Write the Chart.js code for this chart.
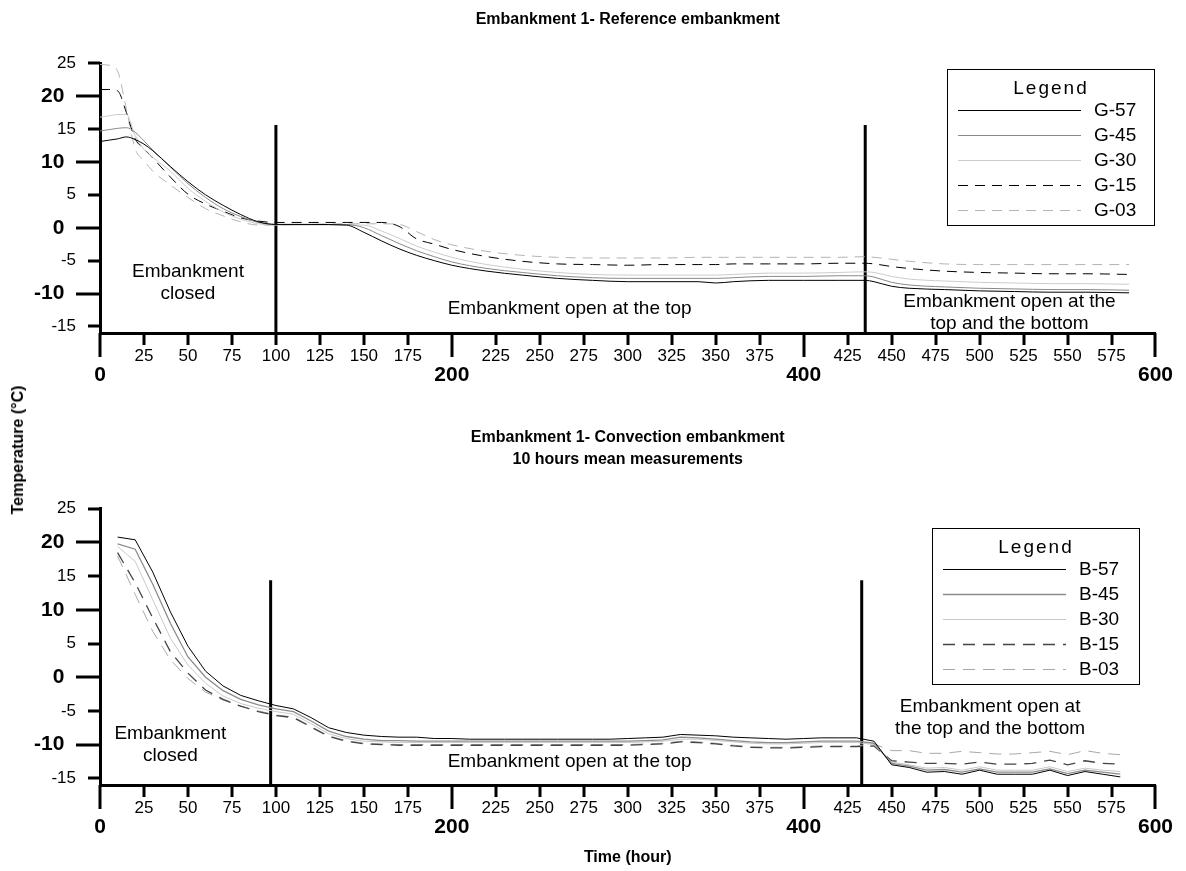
<!DOCTYPE html>
<html>
<head>
<meta charset="utf-8">
<title>Embankment 1 temperatures</title>
<script src="https://cdn.jsdelivr.net/npm/chart.js@4.4.1/dist/chart.umd.min.js"></script>
<style>
  html, body { margin: 0; padding: 0; background: #fff; }
  #wrap { position: relative; width: 1186px; height: 871px; font-family: "Liberation Sans", Arial, sans-serif; }
  #topChart { position: absolute; left: 0; top: 0; }
  #bottomChart { position: absolute; left: 0; top: 400px; }
  #ytitle { position: absolute; left: 18px; top: 450px; transform: translate(-50%, -50%) rotate(-90deg);
            font-weight: bold; font-size: 16px; white-space: nowrap; }
</style>
</head>
<body>
<div id="wrap">
  <canvas id="topChart" width="1186" height="400"></canvas>
  <canvas id="bottomChart" width="1186" height="471"></canvas>
  <div id="ytitle">Temperature (°C)</div>
</div>
<script>
'use strict'

// axis ticks
const xTicks = [0, 25, 50, 75, 100, 125, 150, 175, 200, 225, 250, 275, 300, 325, 350, 375, 400, 425, 450, 475, 500, 525, 550, 575, 600];
const xMajor = [0, 200, 400, 600];
const yTicks = [-15, -10, -5, 0, 5, 10, 15, 20, 25];
const yMajor = [-10, 0, 10, 20];

// reference embankment (G sensors)
const topHours = [0, 5, 10, 15, 20, 25, 30, 40, 50, 60, 70, 80, 90, 100, 120, 140, 150, 160, 170, 180,
  190, 200, 220, 240, 260, 280, 300, 320, 340, 350, 360, 380, 400, 420, 435, 440, 450, 460, 480, 500,
  520, 540, 560, 585];
const g57 = [13.1, 13.3, 13.5, 13.8, 13.4, 12.7, 11.7, 9.3, 7.0, 5.0, 3.4, 2.0, 0.9, 0.5, 0.5, 0.4, -0.7, -2.0, -3.2, -4.2,
  -5.0, -5.7, -6.6, -7.2, -7.7, -8.0, -8.2, -8.2, -8.2, -8.4, -8.2, -8.0, -8.0, -8.0, -8.0, -8.2, -8.9, -9.2, -9.4, -9.6,
  -9.7, -9.8, -9.8, -9.9];
const g45 = [14.7, 14.9, 15.1, 15.2, 14.5, 13.2, 11.8, 9.2, 6.7, 4.6, 2.9, 1.7, 0.8, 0.5, 0.5, 0.5, 0.0, -1.2, -2.4, -3.5,
  -4.4, -5.2, -6.2, -6.8, -7.3, -7.6, -7.7, -7.7, -7.7, -7.7, -7.6, -7.4, -7.4, -7.3, -7.3, -7.5, -8.3, -8.7, -9.0, -9.2,
  -9.3, -9.4, -9.4, -9.5];
const g30 = [16.8, 17.0, 17.2, 17.2, 14.0, 11.9, 10.7, 8.6, 6.0, 4.0, 2.4, 1.3, 0.6, 0.4, 0.4, 0.4, 0.4, -0.5, -1.6, -2.8,
  -3.7, -4.5, -5.6, -6.3, -6.8, -7.1, -7.2, -7.2, -7.2, -7.2, -7.1, -6.9, -6.9, -6.8, -6.7, -6.8, -7.4, -7.8, -8.1, -8.3,
  -8.4, -8.5, -8.5, -8.6];
const g15 = [21.0, 21.0, 20.8, 17.5, 13.5, 12.0, 10.6, 7.7, 5.1, 3.6, 2.5, 1.5, 1.0, 0.8, 0.8, 0.8, 0.8, 0.8, 0.2, -1.7,
  -2.5, -3.3, -4.4, -5.1, -5.5, -5.6, -5.7, -5.6, -5.6, -5.6, -5.5, -5.5, -5.5, -5.4, -5.4, -5.5, -5.9, -6.2, -6.6, -6.8,
  -6.9, -7.0, -7.0, -7.1];
const g03 = [24.8, 24.7, 23.8, 18.0, 12.0, 10.2, 8.6, 6.5, 4.6, 2.9, 1.8, 0.9, 0.4, 0.4, 0.5, 0.6, 0.6, 0.6, 0.5, -0.6,
  -1.8, -2.6, -3.6, -4.2, -4.5, -4.6, -4.6, -4.6, -4.5, -4.5, -4.5, -4.5, -4.5, -4.5, -4.4, -4.5, -4.8, -5.1, -5.5, -5.6,
  -5.6, -5.6, -5.6, -5.6];

// convection embankment (B sensors), 10 hour means
const bottomHours = [10, 20, 30, 40, 50, 60, 70, 80, 90, 100, 110, 120, 130, 140, 150, 160, 170, 180, 190, 200,
  210, 220, 230, 240, 250, 260, 270, 280, 290, 300, 310, 320, 330, 340, 350, 360, 370, 380, 390, 400,
  410, 420, 430, 440, 450, 460, 470, 480, 490, 500, 510, 520, 530, 540, 550, 560, 570, 580];
const b57 = [20.8, 20.4, 15.6, 9.7, 4.6, 0.9, -1.3, -2.7, -3.5, -4.2, -4.7, -6.0, -7.5, -8.2, -8.6, -8.8, -8.9, -8.9, -9.1, -9.1,
  -9.2, -9.2, -9.2, -9.2, -9.2, -9.2, -9.2, -9.2, -9.2, -9.1, -9.0, -8.9, -8.5, -8.6, -8.7, -8.9, -9.0, -9.1, -9.2, -9.1,
  -9.0, -9.0, -9.0, -9.5, -13.0, -13.4, -14.1, -14.0, -14.4, -13.8, -14.4, -14.4, -14.4, -13.8, -14.6, -14.0, -14.4, -14.8];
const b45 = [19.8, 19.0, 13.8, 8.0, 3.0, 0.0, -2.0, -3.3, -4.1, -4.7, -5.1, -6.5, -8.0, -8.8, -9.2, -9.4, -9.4, -9.5, -9.5, -9.5,
  -9.5, -9.5, -9.5, -9.5, -9.5, -9.5, -9.5, -9.5, -9.5, -9.5, -9.4, -9.3, -8.9, -9.0, -9.2, -9.4, -9.6, -9.7, -9.7, -9.6,
  -9.5, -9.5, -9.5, -9.8, -12.8, -13.2, -13.8, -13.7, -14.1, -13.6, -14.1, -14.1, -14.1, -13.6, -14.3, -13.8, -14.1, -14.4];
const b30 = [19.4, 17.2, 11.5, 5.8, 1.8, -0.9, -2.8, -3.9, -4.6, -5.1, -5.5, -6.9, -8.4, -9.1, -9.5, -9.6, -9.7, -9.7, -9.7, -9.7,
  -9.7, -9.7, -9.7, -9.7, -9.7, -9.7, -9.7, -9.7, -9.7, -9.7, -9.6, -9.5, -9.2, -9.2, -9.4, -9.6, -9.8, -9.9, -9.9, -9.8,
  -9.7, -9.7, -9.7, -10.0, -12.6, -13.0, -13.5, -13.4, -13.8, -13.3, -13.8, -13.8, -13.8, -13.3, -14.0, -13.5, -13.8, -14.0];
const b15 = [18.5, 14.0, 8.8, 3.8, 0.6, -1.9, -3.3, -4.3, -5.1, -5.7, -6.0, -7.4, -8.8, -9.5, -9.9, -10.0, -10.1, -10.1, -10.1, -10.1,
  -10.1, -10.1, -10.1, -10.1, -10.1, -10.1, -10.1, -10.1, -10.1, -10.1, -10.0, -9.9, -9.6, -9.7, -9.9, -10.2, -10.4, -10.5, -10.5, -10.4,
  -10.3, -10.3, -10.3, -10.2, -12.4, -12.6, -12.8, -12.8, -12.9, -12.6, -12.9, -12.9, -12.8, -12.3, -13.0, -12.4, -12.8, -12.9];
const b03 = [18.0, 12.3, 6.8, 2.6, -0.2, -2.2, -3.4, -4.3, -5.0, -5.6, -5.9, -7.3, -8.7, -9.4, -9.8, -9.9, -10.0, -10.0, -10.0, -10.0,
  -10.0, -10.0, -10.0, -10.0, -10.0, -10.0, -10.0, -10.0, -10.0, -10.0, -9.9, -9.8, -9.5, -9.6, -9.8, -10.1, -10.3, -10.4, -10.4, -10.3,
  -10.2, -10.2, -10.2, -9.9, -10.9, -10.9, -11.3, -11.3, -11.0, -11.2, -11.4, -11.4, -11.2, -11.0, -11.5, -10.9, -11.3, -11.5];

// stage changes (hour) and how high the marker line goes
const topEvents = [100, 435];
const topEventTop = 15.6;
const bottomEvents = [97, 433];
const bottomEventTop = 14.4;
const yFloor = -16;

const FONT = '"Liberation Sans", Arial, sans-serif';
Chart.defaults.font.family = FONT;
Chart.defaults.color = '#000';

function pts(xs, ys) {
  return xs.map((x, i) => ({x: x, y: ys[i]}));
}

function series(label, xs, ys, color, dash, width) {
  return {label: label, data: pts(xs, ys), borderColor: color, borderWidth: width || 1,
    borderDash: dash || [], pointRadius: 0, fill: false};
}

function markers(hours, top) {
  return hours.map(h => ({marker: true, data: [{x: h, y: yFloor}, {x: h, y: top}],
    borderColor: '#000', borderWidth: 3, pointRadius: 0, fill: false}));
}

// tick marks, long ones for the bold (major) values
const tickMarks = {
  id: 'tickMarks',
  afterDraw(chart) {
    const ctx = chart.ctx, sx = chart.scales.x, sy = chart.scales.y;
    ctx.save();
    ctx.strokeStyle = '#000';
    ctx.lineWidth = 3;
    ctx.beginPath();
    xTicks.forEach(v => {
      const px = Math.round(sx.getPixelForValue(v));
      ctx.moveTo(px, sx.top);
      ctx.lineTo(px, sx.top + (xMajor.includes(v) ? 24 : 12));
    });
    yTicks.forEach(v => {
      const py = Math.round(sy.getPixelForValue(v));
      ctx.moveTo(sy.right, py);
      ctx.lineTo(sy.right - (yMajor.includes(v) ? 24 : 12), py);
    });
    ctx.stroke();
    ctx.restore();
  }
};

// stage notes written inside the plot
const notes = {
  id: 'notes',
  afterDatasetsDraw(chart, args, opts) {
    const ctx = chart.ctx, sx = chart.scales.x, sy = chart.scales.y;
    ctx.save();
    ctx.font = '19px ' + FONT;
    ctx.fillStyle = '#000';
    ctx.textAlign = 'center';
    ctx.textBaseline = 'middle';
    opts.items.forEach(n => {
      const px = sx.getPixelForValue(n.x), py = sy.getPixelForValue(n.y);
      n.lines.forEach((t, i) => ctx.fillText(t, px, py + i * 22));
    });
    ctx.restore();
  }
};

// boxed legend like the original
const boxLegend = {
  id: 'boxLegend',
  afterDraw(chart, args, opts) {
    const ctx = chart.ctx, L = opts.left, T = opts.top, W = 207, H = 156;
    ctx.save();
    ctx.fillStyle = '#fff';
    ctx.fillRect(L, T, W, H);
    ctx.strokeStyle = '#000';
    ctx.lineWidth = 1;
    ctx.strokeRect(L + 0.5, T + 0.5, W, H);
    ctx.fillStyle = '#000';
    ctx.font = '19px ' + FONT;
    ctx.textBaseline = 'middle';
    ctx.textAlign = 'center';
    ctx.letterSpacing = '2px';
    ctx.fillText('Legend', L + 104, T + 20);
    ctx.letterSpacing = '0px';
    ctx.textAlign = 'left';
    chart.data.datasets.filter(d => !d.marker).forEach((d, i) => {
      const yy = T + 41 + i * 25;
      ctx.strokeStyle = d.borderColor;
      ctx.lineWidth = d.borderWidth;
      ctx.setLineDash(d.borderDash);
      ctx.beginPath();
      ctx.moveTo(L + 11, yy + 0.5);
      ctx.lineTo(L + 134, yy + 0.5);
      ctx.stroke();
      ctx.setLineDash([]);
      ctx.fillText(d.label, L + 147, yy + 1);
    });
    ctx.restore();
  }
};

function makeScales(xHeight, withTitle) {
  return {
    x: {
      type: 'linear', min: 0, max: 600,
      afterBuildTicks: s => { s.ticks = xTicks.map(v => ({value: v})); },
      afterFit: s => { s.height = xHeight; },
      grid: {display: false, drawTicks: false},
      border: {display: true, color: '#000', width: 3},
      ticks: {
        autoSkip: false, maxRotation: 0, minRotation: 0, padding: 13, color: '#000',
        callback: v => xMajor.includes(v) ? ['', String(v)] : String(v),
        font: c => (c.tick && xMajor.includes(c.tick.value)) ? {size: 21, weight: 'bold', lineHeight: 0.92} : {size: 17}
      },
      title: {display: withTitle, text: 'Time (hour)', color: '#000',
        font: {size: 16, weight: 'bold'}, padding: {top: 0, bottom: 0}}
    },
    y: {
      min: yFloor, max: 25,
      afterBuildTicks: s => { s.ticks = yTicks.map(v => ({value: v})); },
      afterFit: s => { s.width = 100; },
      grid: {display: false, drawTicks: false},
      border: {display: true, color: '#000', width: 3},
      ticks: {
        padding: 24, color: '#000',
        callback: v => yMajor.includes(v) ? v + '  ' : String(v),
        font: c => (c.tick && yMajor.includes(c.tick.value)) ? {size: 21, weight: 'bold'} : {size: 17}
      }
    }
  };
}

new Chart(document.getElementById('topChart'), {
  type: 'line',
  data: {
    datasets: [
      series('G-57', topHours, g57, '#000000'),
      series('G-45', topHours, g45, '#8a8a8a'),
      series('G-30', topHours, g30, '#cccccc'),
      series('G-15', topHours, g15, '#000000', [10, 7]),
      series('G-03', topHours, g03, '#b4b4b4', [10, 7])
    ].concat(markers(topEvents, topEventTop))
  },
  options: {
    responsive: false, animation: false,
    datasets: {line: {cubicInterpolationMode: 'monotone'}},
    layout: {padding: {left: 0, right: 26, top: 0, bottom: 7}},
    scales: makeScales(60, false),
    plugins: {
      legend: {display: false},
      tooltip: {enabled: false},
      title: {display: true, fullSize: false, text: 'Embankment 1- Reference embankment', color: '#000',
        font: {size: 16, weight: 'bold', lineHeight: 1.2}, padding: {top: 10, bottom: 34}},
      notes: {items: [
        {x: 50, y: -6.7, lines: ['Embankment', 'closed']},
        {x: 267, y: -12.3, lines: ['Embankment open at the top']},
        {x: 517, y: -11.2, lines: ['Embankment open at the', 'top and the bottom']}
      ]},
      boxLegend: {left: 947, top: 69}
    }
  },
  plugins: [tickMarks, notes, boxLegend]
});

new Chart(document.getElementById('bottomChart'), {
  type: 'line',
  data: {
    datasets: [
      series('B-57', bottomHours, b57, '#000000'),
      series('B-45', bottomHours, b45, '#8c8c8c', null, 1.3),
      series('B-30', bottomHours, b30, '#c8c8c8'),
      series('B-15', bottomHours, b15, '#444444', [12, 8], 1.3),
      series('B-03', bottomHours, b03, '#a8a8a8', [12, 8])
    ].concat(markers(bottomEvents, bottomEventTop))
  },
  options: {
    responsive: false, animation: false,
    datasets: {line: {tension: 0}},
    layout: {padding: {left: 0, right: 26, top: 0, bottom: 4}},
    scales: makeScales(82, true),
    plugins: {
      legend: {display: false},
      tooltip: {enabled: false},
      title: {display: true, fullSize: false, color: '#000',
        text: ['Embankment 1- Convection embankment', '10 hours mean measurements'],
        font: {size: 16, weight: 'bold', lineHeight: 1.4}, padding: {top: 26, bottom: 38}},
      notes: {items: [
        {x: 40, y: -8.4, lines: ['Embankment', 'closed']},
        {x: 267, y: -12.5, lines: ['Embankment open at the top']},
        {x: 506, y: -4.4, lines: ['Embankment open at', 'the top and the bottom']}
      ]},
      boxLegend: {left: 932, top: 128}
    }
  },
  plugins: [tickMarks, notes, boxLegend]
});
</script>
</body>
</html>
